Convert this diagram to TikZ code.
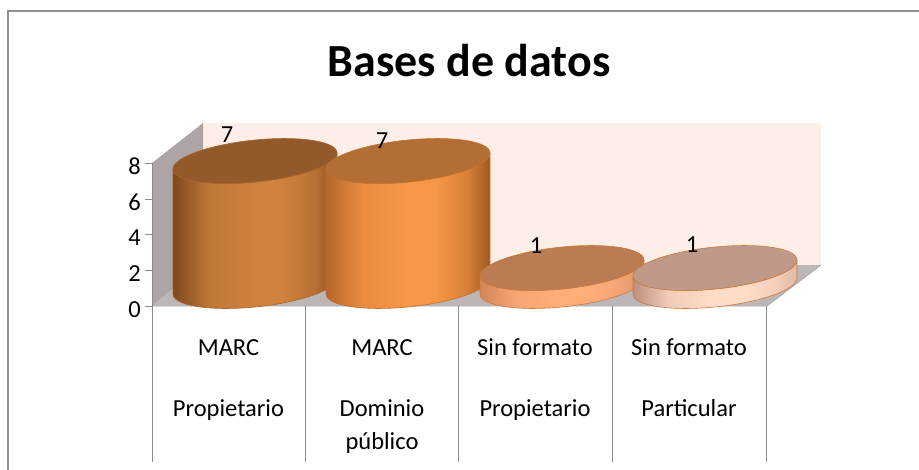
\documentclass[tikz,border=0pt]{standalone}
\usepackage{fontspec}
\setmainfont{Carlito}
\definecolor{frame}{HTML}{8F8F8F}
\definecolor{backwall}{HTML}{FDEEE7}
\definecolor{sidewall}{HTML}{ADA5A5}
\definecolor{floorc}{HTML}{BDB6B6}
\definecolor{axisc}{HTML}{8A8A8A}
\definecolor{aTop}{HTML}{925A2B}\definecolor{aL}{HTML}{7C4A1C}\definecolor{aM}{HTML}{D0823F}\definecolor{aR}{HTML}{8E521E}\definecolor{aE}{HTML}{A8632A}
\definecolor{bTop}{HTML}{B26E35}\definecolor{bL}{HTML}{B3652A}\definecolor{bM}{HTML}{F79646}\definecolor{bR}{HTML}{9E5920}\definecolor{bE}{HTML}{C07031}
\definecolor{cTop}{HTML}{BB7B53}\definecolor{cL}{HTML}{D28657}\definecolor{cM}{HTML}{FFAE79}\definecolor{cR}{HTML}{D8926A}\definecolor{cE}{HTML}{D07A3A}
\definecolor{dTop}{HTML}{C09A89}\definecolor{dL}{HTML}{BE8F7E}\definecolor{dM}{HTML}{FFDDC9}\definecolor{dR}{HTML}{E2B9A4}\definecolor{dE}{HTML}{D07A3A}
\newcommand\makecylshading[1]{%
  \pgfdeclarehorizontalshading{cyl#1}{100bp}{color(0bp)=(#1L); color(25bp)=(#1L); color(36bp)=(#1M!80!#1L); color(50bp)=(#1M); color(58bp)=(#1M); color(68bp)=(#1M!65!#1R); color(75bp)=(#1R); color(100bp)=(#1R)}}
\makecylshading{a}\makecylshading{b}\makecylshading{c}\makecylshading{d}
\tikzset{
  framestyle/.style={draw=frame, line width=2pt},
  axisline/.style={draw=axisc, line width=1pt},
  catlabel/.style={anchor=base, font=\fontsize{24.5}{29}\selectfont, inner sep=0pt},
  ticklabel/.style={anchor=base east, font=\fontsize{24.5}{29}\selectfont, inner sep=0pt},
  datalabel/.style={anchor=base, font=\fontsize{24.5}{29}\selectfont, inner sep=0pt},
  titlestyle/.style={anchor=base, font=\fontsize{46}{54}\selectfont\bfseries, inner sep=0pt},
}
% cylinder: cx, top y, bottom y, colour prefix
\newcommand\drawcylinder[4]{%
  \path[shading=cyl#4, shading angle=0, draw=#4E, line width=0.6pt]
    plot[domain=180:0, samples=60, variable=\a] ({#1+82*cos(\a)}, {#3+21*sin(\a)-8*cos(\a)})
    -- plot[domain=0:180, samples=60, variable=\a] ({#1+82*cos(\a)}, {#2+21*sin(\a)-8*cos(\a)})
    -- cycle;
  \path[fill=#4Top, draw=#4E, line width=0.6pt]
    plot[domain=0:360, samples=120, variable=\a] ({#1+82*cos(\a)}, {#2+21*sin(\a)-8*cos(\a)}) -- cycle;
}
\begin{document}
\begin{tikzpicture}[x=1pt, y=-1pt]
\useasboundingbox (0,0) rectangle (919,469);
% outer frame
\draw[framestyle] (921,11) -- (8,11) -- (8,471);
% title
\node[titlestyle] (title) at (469,76) {Bases de datos};
% walls and floor
\fill[backwall] (203,123) rectangle (821,265);
\fill[sidewall] (152,163) -- (203,123) -- (203,265) -- (152,306) -- cycle;
\fill[floorc] (152,306) -- (767,306) -- (821,265) -- (203,265) -- cycle;
\draw[draw=axisc!70, line width=0.8pt] (152,306) -- (767,306) -- (821,265);
% value axis
\draw[axisline] (152,163) -- (152,462);
\foreach \v/\y in {0/306,2/270,4/234.5,6/199,8/163}{
  \draw[axisline] (145,\y) -- (152,\y);
  \node[ticklabel] (tick\v) at (141,\y+11) {\v};
}
% category separators
\foreach \x in {305,458.5,612,766}{
  \draw[axisline] (\x,306) -- (\x,462);
}
% cylinders
\drawcylinder{255}{161}{286}{a}
\drawcylinder{408}{161}{286}{b}
\drawcylinder{562}{268}{286}{c}
\drawcylinder{715}{268}{286}{d}
% data labels
\node[datalabel] (d1) at (227,142) {7};
\node[datalabel] (d2) at (382,148) {7};
\node[datalabel] (d3) at (536,253) {1};
\node[datalabel] (d4) at (692,252) {1};
% category labels
\node[catlabel] (c1a) at (228.5,355) {MARC};
\node[catlabel] (c1b) at (228.5,416) {Propietario};
\node[catlabel] (c2a) at (382,355) {MARC};
\node[catlabel] (c2b) at (382,416) {Dominio};
\node[catlabel] (c2c) at (382,449) {público};
\node[catlabel] (c3a) at (535,355) {Sin formato};
\node[catlabel] (c3b) at (535,416) {Propietario};
\node[catlabel] (c4a) at (689,355) {Sin formato};
\node[catlabel] (c4b) at (689,416) {Particular};
\end{tikzpicture}
\end{document}
